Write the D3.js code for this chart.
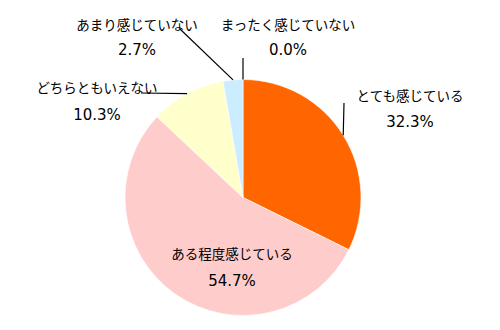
<!DOCTYPE html>
<html><head><meta charset="utf-8">
<script src="https://cdn.jsdelivr.net/npm/d3@7"></script>
<style>
html,body{margin:0;padding:0;background:#fff;}
.jp{font-family:"Noto Sans CJK JP","Noto Sans",sans-serif;font-size:13.5px;fill:#000;}
.num{font-family:"DejaVu Sans",sans-serif;font-size:15px;fill:#000;}
</style>
</head><body>
<svg id="c" width="500" height="330"></svg>
<script>
const categories = ["とても感じている","ある程度感じている","どちらともいえない","あまり感じていない","まったく感じていない"];
const values = [32.3, 54.7, 10.3, 2.7, 0.0];
const colors = ["#FF6600","#FFCCCC","#FFFFCC","#CCECFF","#DDDDDD"];

// label layout (label center, and leader elbow end)
const labelPos = [
  {x:410, y:95,  gap:27, leader:[[344,103]]},
  {x:232, y:253, gap:28, leader:null},
  {x:97,  y:87,  gap:28, leader:[[141,93]]},
  {x:137, y:24,  gap:26, leader:[[180,29]]},
  {x:288, y:24,  gap:26, leader:[[243,58]]}
];

const svg = d3.select("#c");
const cx = 243, cy = 197.5, R = 118;
const g = svg.append("g").attr("transform",`translate(${cx},${cy})`);
const pie = d3.pie().sort(null).value(d=>d)(values);
const arc = d3.arc().innerRadius(0).outerRadius(R);

g.selectAll("path.slice").data(pie).join("path")
  .attr("class","slice")
  .attr("d",arc)
  .attr("fill",(d,i)=>colors[i])
  .attr("stroke","#fff").attr("stroke-width",0.6)
  .attr("display",d=>d.value>0?null:"none");

// leader lines
pie.forEach((d,i)=>{
  const L = labelPos[i];
  if(!L.leader) return;
  const a = (d.startAngle+d.endAngle)/2;
  const px = cx + R*Math.sin(a), py = cy - R*Math.cos(a);
  const pts = [[px,py]].concat(L.leader);
  svg.append("path")
    .attr("d", d3.line()(pts))
    .attr("fill","none").attr("stroke","#000").attr("stroke-width",1.2);
});

// labels
categories.forEach((c,i)=>{
  const L = labelPos[i];
  svg.append("text").attr("class","jp")
    .attr("x",L.x).attr("y",L.y)
    .attr("text-anchor","middle").attr("dominant-baseline","central")
    .text(c);
  svg.append("text").attr("class","num")
    .attr("x",L.x).attr("y",L.y+L.gap)
    .attr("text-anchor","middle").attr("dominant-baseline","central")
    .text(d3.format(".1f")(values[i])+"%");
});
</script>
</body></html>
